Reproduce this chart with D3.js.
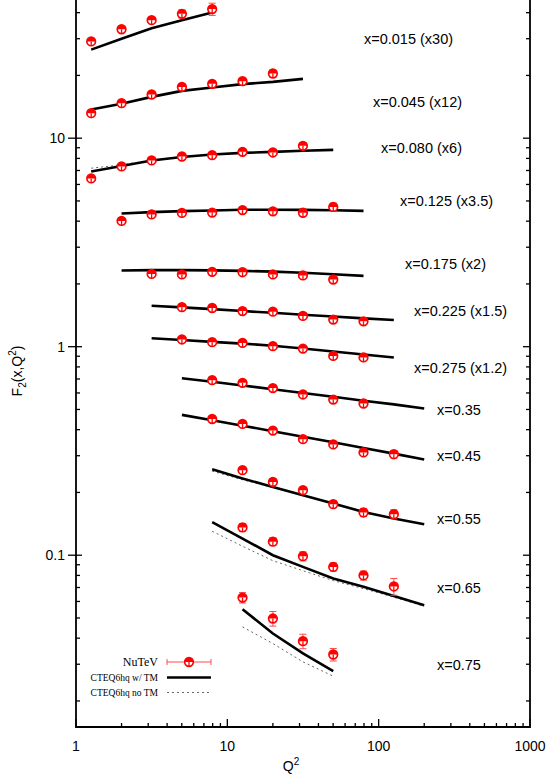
<!DOCTYPE html>
<html>
<head>
<meta charset="utf-8">
<script src="https://cdn.jsdelivr.net/npm/d3@7"></script>
<style>
  html, body { margin: 0; padding: 0; background: #fff; }
  svg { display: block; }
</style>
</head>
<body>
<svg id="chart" width="549" height="774"></svg>
<script>
// Q^2 bin centres (GeV^2)
const Q2 = [1.26, 2.0, 3.16, 5.01, 7.94, 12.6, 20.0, 31.6, 50.1, 79.4, 126, 200];

const binLabels = [
    "x=0.015 (x30)", "x=0.045 (x12)", "x=0.080 (x6)", "x=0.125 (x3.5)",
    "x=0.175 (x2)", "x=0.225 (x1.5)", "x=0.275 (x1.2)", "x=0.35",
    "x=0.45", "x=0.55", "x=0.65", "x=0.75"
];

// NuTeV points (already scaled), first Q2 index for each bin
const dataStart = [0, 0, 0, 1, 2, 3, 3, 4, 4, 5, 5, 5];
const dataF2 = [
    [29.1, 33.3, 36.8, 39.5, 41.6],
    [13.18, 14.72, 16.20, 17.62, 18.22, 18.77, 20.43],
    [6.41, 7.32, 7.82, 8.17, 8.29, 8.60, 8.54, 9.19],
    [4.01, 4.31, 4.38, 4.40, 4.52, 4.46, 4.39, 4.68],
    [2.233, 2.221, 2.286, 2.276, 2.221, 2.196, 2.100],
    [1.548, 1.533, 1.482, 1.472, 1.404, 1.349, 1.324],
    [1.083, 1.051, 1.043, 1.006, 0.980, 0.903, 0.888],
    [0.691, 0.671, 0.633, 0.590, 0.558, 0.534],
    [0.450, 0.426, 0.396, 0.360, 0.340, 0.311, 0.305],
    [0.2557, 0.2246, 0.2050, 0.1757, 0.1603, 0.1573],
    [0.1359, 0.1161, 0.0989, 0.0879, 0.0800, 0.0708],
    [0.0626, 0.0497, 0.0387, 0.0334]
];
const dataErr = [
    [0.9, 1.0, 1.1, 1.8, 2.8],
    [0.3, 0.35, 0.4, 0.4, 0.45, 0.5, 0.8],
    [0.15, 0.15, 0.17, 0.18, 0.18, 0.19, 0.2, 0.35],
    [0.1, 0.09, 0.09, 0.1, 0.1, 0.1, 0.1, 0.2],
    [0.05, 0.05, 0.05, 0.05, 0.05, 0.05, 0.06],
    [0.03, 0.03, 0.03, 0.03, 0.035, 0.04, 0.045],
    [0.025, 0.025, 0.025, 0.025, 0.025, 0.03, 0.03],
    [0.014, 0.014, 0.014, 0.015, 0.015, 0.016],
    [0.01, 0.01, 0.009, 0.009, 0.009, 0.01, 0.013],
    [0.007, 0.007, 0.006, 0.007, 0.007, 0.008],
    [0.006, 0.005, 0.005, 0.004, 0.004, 0.0065],
    [0.0036, 0.0040, 0.0031, 0.0023]
];

// CTEQ6hq curves, first Q2 index for each bin
const theoryStart = [0, 0, 0, 1, 1, 2, 2, 3, 3, 4, 4, 5];
const cteqTM = [
    [26.6, 30.0, 33.7, 36.8, 40.1],
    [13.73, 14.64, 15.78, 16.86, 17.51, 18.16, 18.62, 19.25],
    [6.92, 7.36, 7.82, 8.13, 8.35, 8.50, 8.60, 8.71, 8.79],
    [4.35, 4.42, 4.47, 4.50, 4.54, 4.54, 4.53, 4.51, 4.48],
    [2.321, 2.329, 2.329, 2.323, 2.311, 2.290, 2.264, 2.227, 2.186],
    [1.573, 1.544, 1.514, 1.482, 1.454, 1.424, 1.395, 1.367, 1.342],
    [1.098, 1.076, 1.055, 1.035, 1.010, 0.980, 0.948, 0.918, 0.888],
    [0.706, 0.679, 0.652, 0.625, 0.600, 0.575, 0.551, 0.529, 0.505],
    [0.471, 0.444, 0.418, 0.393, 0.370, 0.348, 0.327, 0.307, 0.288],
    [0.2585, 0.2333, 0.2126, 0.1940, 0.1770, 0.1613, 0.1500, 0.1408],
    [0.1440, 0.1202, 0.1000, 0.0879, 0.0773, 0.0705, 0.0638, 0.0576],
    [0.0551, 0.0421, 0.0338, 0.0278]
];
// no target-mass curves (only where they separate from the TM curve)
const cteqNoTM = [
    null, null,
    [7.18, 7.45, 7.85, 8.14, 8.35, 8.50, 8.60, 8.71, 8.79],
    null, null, null, null, null, null,
    [0.2530, 0.2300, 0.2110, 0.1935, 0.1768, 0.1612, 0.1499, 0.1407],
    [0.1303, 0.1104, 0.0941, 0.0843, 0.0755, 0.0691, 0.0629, 0.0569],
    [0.0453, 0.0377, 0.0308, 0.0263]
];

const xTickLabels = ["1", "10", "100", "1000"];
const yTickLabels = ["0.1", "1", "10"];

const svg = d3.select("#chart");
const W = 549, H = 774;

const x = d3.scaleLog().domain([1, 1000]).range([76, 530]);
const y = d3.scaleLog().domain([0.015, 46]).range([727, 0]);

const sans = "'Liberation Sans', Arial, Helvetica, sans-serif";
const serif = "'Liberation Serif', 'Times New Roman', serif";
const RED = "#ff0000";
const ERRC = "#ff4a4a";

// ---- axes ----
const xMajor = [1, 10, 100, 1000];
const xMinor = [];
[1, 10, 100].forEach(d => { for (let k = 2; k <= 9; k++) xMinor.push(d * k); });
const yMajor = [0.1, 1, 10];
const yMinor = [0.02, 0.03, 0.04, 0.05, 0.06, 0.07, 0.08, 0.09];
[0.1, 1, 10].forEach(d => { for (let k = 2; k <= 9; k++) if (d * k <= 46) yMinor.push(d * k); });

const axisG = svg.append("g").attr("stroke", "#000");

// bottom ticks
xMajor.forEach(v => axisG.append("line")
    .attr("x1", x(v)).attr("x2", x(v)).attr("y1", 727).attr("y2", 719).attr("stroke-width", 1.3));
xMinor.forEach(v => axisG.append("line")
    .attr("x1", x(v)).attr("x2", x(v)).attr("y1", 727).attr("y2", 723).attr("stroke-width", 1.3));
// left ticks
yMajor.forEach(v => axisG.append("line")
    .attr("x1", 68).attr("x2", 82).attr("y1", y(v)).attr("y2", y(v)).attr("stroke-width", 1.3));
yMinor.forEach(v => axisG.append("line")
    .attr("x1", 76).attr("x2", 80).attr("y1", y(v)).attr("y2", y(v)).attr("stroke-width", 1.3));
// right ticks (mirrored)
yMajor.forEach(v => axisG.append("line")
    .attr("x1", 530).attr("x2", 523).attr("y1", y(v)).attr("y2", y(v)).attr("stroke-width", 1.3));
yMinor.forEach(v => axisG.append("line")
    .attr("x1", 530).attr("x2", 526).attr("y1", y(v)).attr("y2", y(v)).attr("stroke-width", 1.3));

// frame (top edge is outside the picture)
axisG.append("path")
    .attr("d", `M76,-5V727H530V-5`)
    .attr("fill", "none")
    .attr("stroke-width", 1.8);

// tick labels
svg.append("g").selectAll("text").data(xMajor).join("text")
    .attr("x", d => x(d)).attr("y", 751)
    .attr("text-anchor", "middle")
    .attr("font-family", sans).attr("font-size", 14)
    .text((d, i) => xTickLabels[i]);
svg.append("g").selectAll("text").data(yMajor).join("text")
    .attr("x", 65).attr("y", d => y(d) + 5)
    .attr("text-anchor", "end")
    .attr("font-family", sans).attr("font-size", 14)
    .text((d, i) => yTickLabels[i]);

// axis titles
const xt = svg.append("text")
    .attr("x", 291).attr("y", 771)
    .attr("text-anchor", "middle")
    .attr("font-family", sans).attr("font-size", 14);
xt.append("tspan").text("Q");
xt.append("tspan").attr("dy", -6).attr("font-size", 10).text("2");

const yt = svg.append("text")
    .attr("transform", "translate(22,371) rotate(-90)")
    .attr("text-anchor", "middle")
    .attr("font-family", sans).attr("font-size", 14);
yt.append("tspan").text("F");
yt.append("tspan").attr("dy", 4).attr("font-size", 10).text("2");
yt.append("tspan").attr("dy", -4).text("(x,Q");
yt.append("tspan").attr("dy", -6).attr("font-size", 10).text("2");
yt.append("tspan").attr("dy", 6).text(")");

// ---- curves ----
const line = d3.line().x(d => x(d[0])).y(d => y(d[1]));
const curveG = svg.append("g");

cteqNoTM.forEach((arr, i) => {
    if (!arr) return;
    const pts = arr.map((v, j) => [Q2[theoryStart[i] + j], v]);
    curveG.append("path").attr("d", line(pts))
        .attr("fill", "none").attr("stroke", "#666")
        .attr("stroke-width", 1).attr("stroke-dasharray", "2,3");
});
cteqTM.forEach((arr, i) => {
    const pts = arr.map((v, j) => [Q2[theoryStart[i] + j], v]);
    curveG.append("path").attr("d", line(pts))
        .attr("fill", "none").attr("stroke", "#000")
        .attr("stroke-width", 2.6);
});

// ---- data points ----
function drawMarker(g, cx, cy) {
    const r = 4.3;
    g.append("circle").attr("cx", cx).attr("cy", cy).attr("r", r)
        .attr("fill", "#fff").attr("stroke", RED).attr("stroke-width", 1.7);
    g.append("path")
        .attr("d", `M${cx - r},${cy} A${r},${r} 0 0 1 ${cx + r},${cy} Z`)
        .attr("fill", RED);
    g.append("line").attr("x1", cx).attr("x2", cx).attr("y1", cy).attr("y2", cy + r)
        .attr("stroke", RED).attr("stroke-width", 1.3);
}

const ptG = svg.append("g");
dataF2.forEach((arr, i) => {
    arr.forEach((v, j) => {
        const q = Q2[dataStart[i] + j];
        const e = dataErr[i][j];
        const cx = x(q), y0 = y(v - e), y1 = y(v + e);
        const g = ptG.append("g");
        g.append("line").attr("x1", cx).attr("x2", cx).attr("y1", y0).attr("y2", y1)
            .attr("stroke", ERRC).attr("stroke-width", 1);
        [y0, y1].forEach(yy => g.append("line")
            .attr("x1", cx - 3.5).attr("x2", cx + 3.5).attr("y1", yy).attr("y2", yy)
            .attr("stroke", ERRC).attr("stroke-width", 1));
        drawMarker(g, cx, y(v));
    });
});

// ---- bin labels ----
const labelPos = [
    [364, 44], [373, 107], [381, 153], [400, 206], [405, 269], [414, 316],
    [414, 373], [437, 415], [437, 461], [437, 524], [437, 593], [437, 670]
];
svg.append("g").selectAll("text").data(binLabels).join("text")
    .attr("x", (d, i) => labelPos[i][0]).attr("y", (d, i) => labelPos[i][1])
    .attr("font-family", sans).attr("font-size", 14.5)
    .text(d => d);

// ---- legend ----
const lg = svg.append("g").attr("font-family", serif);
lg.append("text").attr("x", 158).attr("y", 666).attr("text-anchor", "end")
    .attr("font-size", 12).text("NuTeV");
lg.append("line").attr("x1", 167).attr("x2", 211).attr("y1", 662).attr("y2", 662)
    .attr("stroke", ERRC).attr("stroke-width", 1);
[167, 211].forEach(xx => lg.append("line").attr("x1", xx).attr("x2", xx)
    .attr("y1", 659).attr("y2", 665).attr("stroke", ERRC).attr("stroke-width", 1));
drawMarker(lg, 189, 662);

lg.append("text").attr("x", 158).attr("y", 681).attr("text-anchor", "end")
    .attr("font-size", 9.5).text("CTEQ6hq w/ TM");
lg.append("line").attr("x1", 167).attr("x2", 211).attr("y1", 677.5).attr("y2", 677.5)
    .attr("stroke", "#000").attr("stroke-width", 2.6);

lg.append("text").attr("x", 158).attr("y", 696).attr("text-anchor", "end")
    .attr("font-size", 9.5).text("CTEQ6hq no TM");
lg.append("line").attr("x1", 167).attr("x2", 211).attr("y1", 692.5).attr("y2", 692.5)
    .attr("stroke", "#666").attr("stroke-width", 1).attr("stroke-dasharray", "2,3");
</script>
</body>
</html>
